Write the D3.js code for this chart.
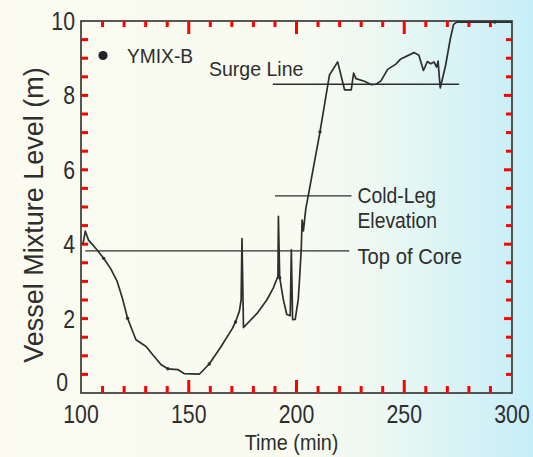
<!DOCTYPE html>
<html>
<head>
<meta charset="utf-8">
<script src="https://cdn.jsdelivr.net/npm/d3@7"></script>
<style>
  body { margin: 0; padding: 0; }
  svg { display: block; font-family: "Liberation Sans", Arial, sans-serif; }
</style>
</head>
<body>
<svg width="533" height="457"></svg>
<script>
// data (time in min, level in m)
const times = [100.9, 102.0, 103.5, 107.4, 110.5, 113.7, 116.8, 119.2, 121.6, 125.5,
  130.2, 133.3, 137.2, 140.3, 144.9, 148.0, 155.0, 159.5, 164.8, 170.2,
  171.7, 173.5, 174.3, 174.7, 175.4, 181.7, 186.2, 189.2, 190.8, 191.4,
  191.6, 192.2, 193.9, 195.5, 197.1, 197.6, 198.2, 199.4, 200.8, 201.5,
  202.2, 202.6, 203.2, 204.3, 205.5, 210.9, 215.3, 219.1, 222.3, 225.4,
  226.5, 227.6, 231.5, 234.6, 236.9, 239.2, 242.3, 246.1, 248.4, 254.5,
  256.8, 258.9, 260.7, 262.3, 263.8, 265.0, 265.7, 266.2, 266.7, 269.2,
  271.4, 272.9, 274.4, 292.0, 300.0]
const levels = [4.0, 4.35, 4.11, 3.85, 3.62, 3.35, 3.0, 2.55, 2.01, 1.43,
  1.25, 1.03, 0.76, 0.65, 0.63, 0.52, 0.51, 0.78, 1.23, 1.73,
  1.91, 2.2, 2.5, 4.15, 1.76, 2.14, 2.5, 2.82, 3.05, 3.14,
  4.75, 3.1, 2.51, 2.11, 2.08, 3.85, 1.97, 1.98, 2.51, 3.14,
  3.86, 4.65, 4.36, 4.95, 5.32, 7.02, 8.55, 8.9, 8.15, 8.15,
  8.6, 8.45, 8.38, 8.29, 8.3, 8.39, 8.7, 8.84, 8.98, 9.15,
  9.08, 8.67, 8.91, 8.85, 8.9, 8.76, 8.92, 8.54, 8.2, 8.81,
  9.53, 9.91, 9.97, 9.97, 9.97]
// points that carry the YMIX-B symbol
const markerTimes = [110.5, 121.6, 140.3, 159.5, 171.7, 192.2, 210.9, 292.0]

// reference levels
const refNames = ['Surge Line', 'Cold-Leg Elevation', 'Top of Core']
const refLevels = [8.3, 5.3, 3.82]
const refStart = [189, 190, 102]
const refEnd = [275.5, 225.5, 224.5]

const xTicks = [100, 150, 200, 250, 300]
const yTicks = [0, 2, 4, 6, 8, 10]
const xMinor = d3.range(110, 300, 10)
const yMinor = d3.range(0.5, 10, 0.5)

const ink = '#2e2e2e'
const svg = d3.select('svg')
const margin = {top: 21, right: 21, bottom: 64, left: 81}
const graphWidth = 533 - margin.left - margin.right
const graphHeight = 457 - margin.top - margin.bottom

// paper: cream on the left, cyan tint on the right
const grad = svg.append('defs').append('linearGradient')
  .attr('id', 'paper').attr('x1', '0').attr('x2', '1').attr('y1', '0').attr('y2', '0')
grad.selectAll('stop')
  .data([[0, '#fbfbf0'], [0.55, '#f9fbf0'], [0.72, '#ebf8f2'], [0.86, '#d8f3f5'], [1, '#c6eef8']])
  .enter().append('stop')
  .attr('offset', d => d[0])
  .attr('stop-color', d => d[1])
svg.append('rect').attr('width', 533).attr('height', 457).attr('fill', 'url(#paper)')

const graph = svg.append('g')
  .attr('transform', `translate(${margin.left},${margin.top})`)

const x = d3.scaleLinear().domain([100, 300]).range([0, graphWidth])
const y = d3.scaleLinear().domain([0, 10]).range([graphHeight, 0])

graph.append('rect')
  .attr('width', graphWidth)
  .attr('height', graphHeight)
  .attr('fill', 'none')
  .attr('stroke', ink)
  .attr('stroke-width', 1.6)

// inward ticks on all four sides
const isMajorX = d => d % 50 === 0
const isMajorY = d => d % 2 === 0
const tickG = graph.append('g')
  .attr('stroke', 'red')
  .attr('stroke-width', 3)

tickG.selectAll('line.xb').data(xMinor).enter().append('line')
  .attr('class', 'xb')
  .attr('x1', d => x(d)).attr('x2', d => x(d))
  .attr('y1', graphHeight).attr('y2', d => graphHeight - (isMajorX(d) ? 13 : 7))
tickG.selectAll('line.xt').data(xMinor).enter().append('line')
  .attr('class', 'xt')
  .attr('x1', d => x(d)).attr('x2', d => x(d))
  .attr('y1', 0).attr('y2', d => isMajorX(d) ? 13 : 6)
tickG.selectAll('line.yl').data(yMinor).enter().append('line')
  .attr('class', 'yl')
  .attr('x1', 0).attr('x2', 7)
  .attr('y1', d => y(d)).attr('y2', d => y(d))
tickG.selectAll('line.yr').data(yMinor).enter().append('line')
  .attr('class', 'yr')
  .attr('x1', graphWidth).attr('x2', d => graphWidth - (isMajorY(d) ? 8 : 6))
  .attr('y1', d => y(d)).attr('y2', d => y(d))

// text helper, the scan's type is a bit narrow
const label = (txt, tx, ty, size, sx, anchor) => {
  return svg.append('text')
    .attr('transform', `translate(${tx},${ty}) scale(${sx},1)`)
    .attr('font-size', size)
    .attr('fill', ink)
    .attr('text-anchor', anchor || 'start')
    .text(txt)
}

xTicks.forEach(d => label(d, margin.left + x(d), 423, 25, 0.85, 'middle'))
yTicks.forEach(d => {
  if (d === 0) label(d, margin.left - 13, margin.top + y(d) - 2, 25, 0.85, 'end')
  else label(d, margin.left - 6, margin.top + y(d) + 9, 25, 0.85, 'end')
})

label('Time (min)', margin.left + graphWidth / 2 - 5, 450, 22, 0.9, 'middle')
svg.append('text')
  .attr('transform', `translate(42.5,215) rotate(-90)`)
  .attr('font-size', 27)
  .attr('fill', ink)
  .attr('text-anchor', 'middle')
  .text('Vessel Mixture Level (m)')

// reference lines
refLevels.forEach((lv, i) => {
  graph.append('line')
    .attr('x1', x(refStart[i])).attr('x2', x(refEnd[i]))
    .attr('y1', y(lv)).attr('y2', y(lv))
    .attr('stroke', ink)
    .attr('stroke-width', 1.3)
})

// labels for them
label(refNames[0], 209, 76, 21, 0.93)
const coldWords = refNames[1].split(' ')
label(coldWords[0], margin.left + x(refEnd[1]) + 6, 203, 22, 0.88)
label(coldWords[1], margin.left + x(refEnd[1]) + 6, 228, 22, 0.88)
label(refNames[2], margin.left + x(refEnd[1]) + 6, 263.5, 22, 0.92)

// the YMIX-B trace
const pts = times.map((t, i) => ({t: t, v: levels[i]}))
const trace = d3.line()
  .x(d => x(d.t))
  .y(d => y(d.v))

graph.append('path')
  .datum(pts)
  .attr('d', trace)
  .attr('fill', 'none')
  .attr('stroke', ink)
  .attr('stroke-width', 1.7)
  .attr('stroke-linejoin', 'round')

graph.selectAll('circle.mark')
  .data(pts.filter(d => markerTimes.includes(d.t)))
  .enter().append('circle')
  .attr('class', 'mark')
  .attr('cx', d => x(d.t))
  .attr('cy', d => y(d.v))
  .attr('r', 1.7)
  .attr('fill', ink)

// legend
svg.append('circle')
  .attr('cx', 103).attr('cy', 55.5)
  .attr('r', 4.6)
  .attr('fill', '#222')
label('YMIX-B', 127, 62.5, 20, 0.96)
</script>
</body>
</html>
